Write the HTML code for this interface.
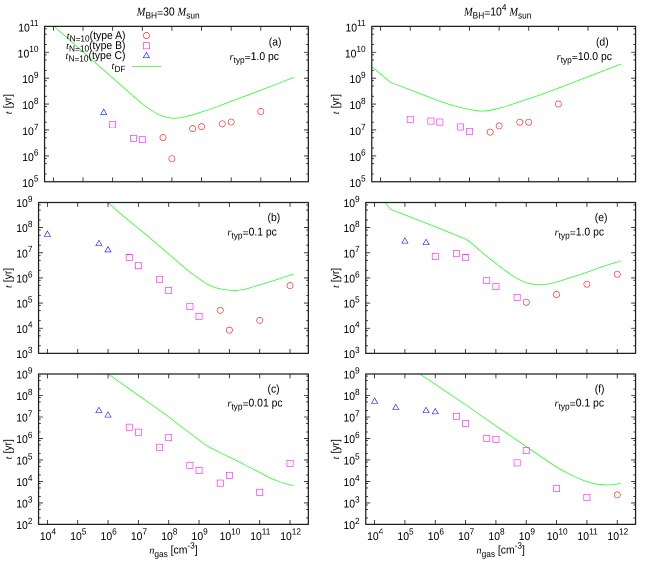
<!DOCTYPE html>
<html><head><meta charset="utf-8"><title>t vs n_gas</title>
<style>html,body{margin:0;padding:0;background:#fff;}.wrap{width:654px;height:561px;overflow:hidden;}svg{display:block;transform:scale(0.5);transform-origin:0 0;will-change:transform;}text{fill:#000;text-rendering:geometricPrecision;white-space:pre;}</style></head>
<body>
<div class="wrap"><svg width="1308" height="1122" viewBox="0 0 654 561">
<rect width="654" height="561" fill="#fff"/>
<path d="M53.95 26.15C54.96 27.04 54.81 26.91 60 31.5C65.19 36.09 76.72 46.32 85.08 53.7C93.44 61.08 102.66 69.18 110.15 75.76C117.64 82.34 125.65 89.32 130 93.16C134.35 97 134.18 96.98 136.27 98.8C138.36 100.62 140.45 102.44 142.54 104.07C144.63 105.7 146.71 107.17 148.8 108.59C150.89 110.01 152.99 111.41 155.08 112.6C157.17 113.79 159.25 114.9 161.34 115.73C163.43 116.56 165.51 117.18 167.6 117.6C169.69 118.02 171.81 118.2 173.9 118.24C175.99 118.28 178.07 118.13 180.15 117.86C182.23 117.59 184.31 117.1 186.4 116.6C188.49 116.1 190.61 115.47 192.7 114.85C194.79 114.22 196.88 113.52 198.96 112.85C201.04 112.18 203.03 111.55 205.2 110.84C207.37 110.14 206.69 110.58 212 108.62C217.31 106.66 228.72 102.25 237.08 99.1C245.44 95.95 252.68 93.33 262.15 89.7C271.62 86.08 288.61 79.41 293.9 77.35" fill="none" stroke="#00ff00" stroke-width="0.65" stroke-linejoin="round"/>
<path d="M108 202.45C110 204.26 116.67 210.38 120 213.3C123.33 216.23 123.78 216.55 128 220C132.22 223.45 141.63 230.97 145.3 234C148.97 237.03 147.13 235.68 150 238.15C152.87 240.62 158.36 245.25 162.54 248.8C166.72 252.35 170.9 255.91 175.08 259.46C179.26 263.01 183.42 266.76 187.6 270.1C191.78 273.44 197.02 277.24 200.15 279.5C203.28 281.76 204.31 282.47 206.4 283.66C208.49 284.86 210.61 285.86 212.7 286.67C214.79 287.49 216.88 288.05 218.96 288.55C221.04 289.06 223.36 289.41 225.2 289.7C227.04 289.99 228.45 290.17 230 290.3C231.55 290.43 232.7 290.57 234.5 290.5C236.3 290.43 238.7 290.21 240.8 289.9C242.9 289.59 243.97 289.48 247.1 288.65C250.23 287.82 255.43 286.16 259.6 284.9C263.78 283.64 267.97 282.42 272.15 281.1C276.33 279.78 281.11 278.17 284.7 277C288.29 275.83 292.2 274.58 293.7 274.1" fill="none" stroke="#00ff00" stroke-width="0.65" stroke-linejoin="round"/>
<path d="M108.3 374.03C112.92 377.31 126.72 387.14 136 393.7C145.28 400.26 156.67 408.08 164 413.4C171.33 418.72 175.24 422.03 180 425.64C184.76 429.25 188.36 431.92 192.54 435.05C196.72 438.19 201.95 442.26 205.08 444.45C208.21 446.64 208.16 446.52 211.3 448.2C214.44 449.88 219.72 452.43 223.9 454.5C228.08 456.57 232.22 458.52 236.4 460.6C240.58 462.68 244.69 464.83 248.96 467C253.23 469.17 258.89 471.97 262 473.6C265.11 475.23 264.58 475.4 267.6 476.8C270.62 478.2 276.8 480.76 280.15 482C283.5 483.24 285.44 483.63 287.7 484.26C289.96 484.89 292.7 485.51 293.7 485.76" fill="none" stroke="#00ff00" stroke-width="0.65" stroke-linejoin="round"/>
<path d="M371.56 66.45L390.2 82.25L420 93.7C423.33 94.97 434.58 99.4 440 101.34C445.42 103.28 448.36 104.15 452.54 105.36C456.72 106.57 461.32 107.74 465.08 108.6C468.84 109.46 472.18 110.08 475.1 110.5C478.02 110.92 480.09 111.12 482.6 111.1C485.11 111.08 486.8 110.99 490.15 110.37C493.5 109.75 498.52 108.56 502.7 107.36C506.88 106.16 511.98 104.27 515.2 103.2C518.42 102.14 517.03 102.64 522 100.97C526.97 99.3 534.83 96.91 545 93.2C555.17 89.49 570.32 83.56 583 78.7C595.68 73.84 614.75 66.5 621.1 64.06" fill="none" stroke="#00ff00" stroke-width="0.65" stroke-linejoin="round"/>
<path d="M385 202.45L390.7 209.4L440 228.6L452.5 233.8C454.18 234.47 459.88 236.59 462.6 237.8C465.32 239.01 466.72 239.64 468.8 241.06C470.88 242.48 472.58 244.17 475.1 246.3C477.62 248.43 480.35 250.92 483.9 253.85C487.45 256.78 492.22 260.66 496.4 263.9C500.58 267.14 505.83 271.05 508.96 273.3C512.09 275.55 512.51 275.88 515.2 277.4C517.89 278.92 521.99 281.25 525.1 282.4C528.21 283.55 531.13 283.92 533.85 284.3C536.57 284.68 538.68 284.77 541.4 284.66C544.12 284.55 546.6 284.41 550.15 283.66C553.7 282.91 558.53 281.41 562.7 280.15C566.88 278.89 571.98 277.11 575.2 276.1C578.42 275.09 577.33 275.72 582 274.1C586.67 272.48 596.68 268.58 603.2 266.4C609.72 264.22 618.12 261.9 621.1 261" fill="none" stroke="#00ff00" stroke-width="0.65" stroke-linejoin="round"/>
<path d="M419.9 374.03L464.4 403.9L491 422.5L530 449.2C532.5 450.9 540.41 456.37 545 459.43C549.59 462.49 553.36 465.07 557.54 467.58C561.72 470.09 565.9 472.39 570.08 474.48C574.26 476.57 578.85 478.64 582.6 480.1C586.35 481.56 589.67 482.53 592.6 483.26C595.53 483.99 597.68 484.23 600.2 484.5C602.72 484.77 605.2 484.92 607.7 484.9C610.2 484.88 613.01 484.65 615.2 484.4C617.39 484.15 619.91 483.57 620.85 483.4" fill="none" stroke="#00ff00" stroke-width="0.65" stroke-linejoin="round"/>
<rect x="44.56" y="26.35" width="263.8" height="155.45" fill="none" stroke="#202020" stroke-width="1.25" stroke-linejoin="round"/>
<path d="M53.39 181.8v-4.4M53.39 26.35v4.4M83.02 181.8v-4.4M83.02 26.35v4.4M112.65 181.8v-4.4M112.65 26.35v4.4M142.28 181.8v-4.4M142.28 26.35v4.4M171.91 181.8v-4.4M171.91 26.35v4.4M201.54 181.8v-4.4M201.54 26.35v4.4M231.17 181.8v-4.4M231.17 26.35v4.4M260.8 181.8v-4.4M260.8 26.35v4.4M290.43 181.8v-4.4M290.43 26.35v4.4M44.56 174h2.2M308.36 174h-2.2M44.56 163.69h2.2M308.36 163.69h-2.2M44.56 158.4h2.2M308.36 158.4h-2.2M44.56 155.89h4.4M308.36 155.89h-4.4M44.56 148.09h2.2M308.36 148.09h-2.2M44.56 137.78h2.2M308.36 137.78h-2.2M44.56 132.49h2.2M308.36 132.49h-2.2M44.56 129.98h4.4M308.36 129.98h-4.4M44.56 122.18h2.2M308.36 122.18h-2.2M44.56 111.87h2.2M308.36 111.87h-2.2M44.56 106.59h2.2M308.36 106.59h-2.2M44.56 104.08h4.4M308.36 104.08h-4.4M44.56 96.28h2.2M308.36 96.28h-2.2M44.56 85.97h2.2M308.36 85.97h-2.2M44.56 80.68h2.2M308.36 80.68h-2.2M44.56 78.17h4.4M308.36 78.17h-4.4M44.56 70.37h2.2M308.36 70.37h-2.2M44.56 60.06h2.2M308.36 60.06h-2.2M44.56 54.77h2.2M308.36 54.77h-2.2M44.56 52.26h4.4M308.36 52.26h-4.4M44.56 44.46h2.2M308.36 44.46h-2.2M44.56 34.15h2.2M308.36 34.15h-2.2M44.56 28.86h2.2M308.36 28.86h-2.2" fill="none" stroke="#202020" stroke-width="0.85"/>
<text transform="translate(22.28 186.8) scale(1 1.08)" font-family="'Liberation Sans', sans-serif" font-size="10.4">10</text>
<text transform="translate(33.84 181.6) scale(1 1.08)" font-family="'Liberation Sans', sans-serif" font-size="8.3">5</text>
<text transform="translate(22.28 160.89) scale(1 1.08)" font-family="'Liberation Sans', sans-serif" font-size="10.4">10</text>
<text transform="translate(33.84 155.69) scale(1 1.08)" font-family="'Liberation Sans', sans-serif" font-size="8.3">6</text>
<text transform="translate(22.28 134.98) scale(1 1.08)" font-family="'Liberation Sans', sans-serif" font-size="10.4">10</text>
<text transform="translate(33.84 129.78) scale(1 1.08)" font-family="'Liberation Sans', sans-serif" font-size="8.3">7</text>
<text transform="translate(22.28 109.08) scale(1 1.08)" font-family="'Liberation Sans', sans-serif" font-size="10.4">10</text>
<text transform="translate(33.84 103.88) scale(1 1.08)" font-family="'Liberation Sans', sans-serif" font-size="8.3">8</text>
<text transform="translate(22.28 83.17) scale(1 1.08)" font-family="'Liberation Sans', sans-serif" font-size="10.4">10</text>
<text transform="translate(33.84 77.97) scale(1 1.08)" font-family="'Liberation Sans', sans-serif" font-size="8.3">9</text>
<text transform="translate(17.66 57.26) scale(1 1.08)" font-family="'Liberation Sans', sans-serif" font-size="10.4">10</text>
<text transform="translate(29.23 52.06) scale(1 1.08)" font-family="'Liberation Sans', sans-serif" font-size="8.3">10</text>
<text transform="translate(18.28 31.35) scale(1 1.08)" font-family="'Liberation Sans', sans-serif" font-size="10.4">10</text>
<text transform="translate(29.84 26.15) scale(1 1.08)" font-family="'Liberation Sans', sans-serif" font-size="8.3">11</text>
<g transform="translate(11.7 104.08) rotate(-90)">
<text transform="translate(-10.11 0) scale(1 1.0)" font-family="'Liberation Serif', serif" font-style="italic" font-size="9.98">t</text>
<text transform="translate(-7.22 0) scale(1 1.08)" font-family="'Liberation Sans', sans-serif" font-size="10.4"> [yr]</text>
</g>
<rect x="38.56" y="202.45" width="269.8" height="150.95" fill="none" stroke="#202020" stroke-width="1.25" stroke-linejoin="round"/>
<path d="M47.39 353.4v-4.4M47.39 202.45v4.4M77.72 353.4v-4.4M77.72 202.45v4.4M108.05 353.4v-4.4M108.05 202.45v4.4M138.38 353.4v-4.4M138.38 202.45v4.4M168.71 353.4v-4.4M168.71 202.45v4.4M199.04 353.4v-4.4M199.04 202.45v4.4M229.37 353.4v-4.4M229.37 202.45v4.4M259.7 353.4v-4.4M259.7 202.45v4.4M290.03 353.4v-4.4M290.03 202.45v4.4M38.56 345.83h2.2M308.36 345.83h-2.2M38.56 335.82h2.2M308.36 335.82h-2.2M38.56 330.68h2.2M308.36 330.68h-2.2M38.56 328.24h4.4M308.36 328.24h-4.4M38.56 320.67h2.2M308.36 320.67h-2.2M38.56 310.66h2.2M308.36 310.66h-2.2M38.56 305.52h2.2M308.36 305.52h-2.2M38.56 303.08h4.4M308.36 303.08h-4.4M38.56 295.51h2.2M308.36 295.51h-2.2M38.56 285.5h2.2M308.36 285.5h-2.2M38.56 280.36h2.2M308.36 280.36h-2.2M38.56 277.92h4.4M308.36 277.92h-4.4M38.56 270.35h2.2M308.36 270.35h-2.2M38.56 260.34h2.2M308.36 260.34h-2.2M38.56 255.2h2.2M308.36 255.2h-2.2M38.56 252.77h4.4M308.36 252.77h-4.4M38.56 245.19h2.2M308.36 245.19h-2.2M38.56 235.18h2.2M308.36 235.18h-2.2M38.56 230.05h2.2M308.36 230.05h-2.2M38.56 227.61h4.4M308.36 227.61h-4.4M38.56 220.03h2.2M308.36 220.03h-2.2M38.56 210.02h2.2M308.36 210.02h-2.2M38.56 204.89h2.2M308.36 204.89h-2.2" fill="none" stroke="#202020" stroke-width="0.85"/>
<text transform="translate(16.28 358) scale(1 1.08)" font-family="'Liberation Sans', sans-serif" font-size="10.4">10</text>
<text transform="translate(27.84 352.8) scale(1 1.08)" font-family="'Liberation Sans', sans-serif" font-size="8.3">3</text>
<text transform="translate(16.28 332.84) scale(1 1.08)" font-family="'Liberation Sans', sans-serif" font-size="10.4">10</text>
<text transform="translate(27.84 327.64) scale(1 1.08)" font-family="'Liberation Sans', sans-serif" font-size="8.3">4</text>
<text transform="translate(16.28 307.68) scale(1 1.08)" font-family="'Liberation Sans', sans-serif" font-size="10.4">10</text>
<text transform="translate(27.84 302.48) scale(1 1.08)" font-family="'Liberation Sans', sans-serif" font-size="8.3">5</text>
<text transform="translate(16.28 282.52) scale(1 1.08)" font-family="'Liberation Sans', sans-serif" font-size="10.4">10</text>
<text transform="translate(27.84 277.32) scale(1 1.08)" font-family="'Liberation Sans', sans-serif" font-size="8.3">6</text>
<text transform="translate(16.28 257.37) scale(1 1.08)" font-family="'Liberation Sans', sans-serif" font-size="10.4">10</text>
<text transform="translate(27.84 252.17) scale(1 1.08)" font-family="'Liberation Sans', sans-serif" font-size="8.3">7</text>
<text transform="translate(16.28 232.21) scale(1 1.08)" font-family="'Liberation Sans', sans-serif" font-size="10.4">10</text>
<text transform="translate(27.84 227.01) scale(1 1.08)" font-family="'Liberation Sans', sans-serif" font-size="8.3">8</text>
<text transform="translate(16.28 207.05) scale(1 1.08)" font-family="'Liberation Sans', sans-serif" font-size="10.4">10</text>
<text transform="translate(27.84 201.85) scale(1 1.08)" font-family="'Liberation Sans', sans-serif" font-size="8.3">9</text>
<g transform="translate(11.7 277.92) rotate(-90)">
<text transform="translate(-10.11 0) scale(1 1.0)" font-family="'Liberation Serif', serif" font-style="italic" font-size="9.98">t</text>
<text transform="translate(-7.22 0) scale(1 1.08)" font-family="'Liberation Sans', sans-serif" font-size="10.4"> [yr]</text>
</g>
<rect x="38.56" y="374.03" width="269.8" height="150.38" fill="none" stroke="#202020" stroke-width="1.25" stroke-linejoin="round"/>
<path d="M47.39 524.41v-4.4M47.39 374.03v4.4M77.72 524.41v-4.4M77.72 374.03v4.4M108.05 524.41v-4.4M108.05 374.03v4.4M138.38 524.41v-4.4M138.38 374.03v4.4M168.71 524.41v-4.4M168.71 374.03v4.4M199.04 524.41v-4.4M199.04 374.03v4.4M229.37 524.41v-4.4M229.37 374.03v4.4M259.7 524.41v-4.4M259.7 374.03v4.4M290.03 524.41v-4.4M290.03 374.03v4.4M38.56 517.94h2.2M308.36 517.94h-2.2M38.56 509.39h2.2M308.36 509.39h-2.2M38.56 505.01h2.2M308.36 505.01h-2.2M38.56 502.93h4.4M308.36 502.93h-4.4M38.56 496.46h2.2M308.36 496.46h-2.2M38.56 487.91h2.2M308.36 487.91h-2.2M38.56 483.53h2.2M308.36 483.53h-2.2M38.56 481.44h4.4M308.36 481.44h-4.4M38.56 474.98h2.2M308.36 474.98h-2.2M38.56 466.43h2.2M308.36 466.43h-2.2M38.56 462.04h2.2M308.36 462.04h-2.2M38.56 459.96h4.4M308.36 459.96h-4.4M38.56 453.49h2.2M308.36 453.49h-2.2M38.56 444.95h2.2M308.36 444.95h-2.2M38.56 440.56h2.2M308.36 440.56h-2.2M38.56 438.48h4.4M308.36 438.48h-4.4M38.56 432.01h2.2M308.36 432.01h-2.2M38.56 423.46h2.2M308.36 423.46h-2.2M38.56 419.08h2.2M308.36 419.08h-2.2M38.56 417h4.4M308.36 417h-4.4M38.56 410.53h2.2M308.36 410.53h-2.2M38.56 401.98h2.2M308.36 401.98h-2.2M38.56 397.59h2.2M308.36 397.59h-2.2M38.56 395.51h4.4M308.36 395.51h-4.4M38.56 389.05h2.2M308.36 389.05h-2.2M38.56 380.5h2.2M308.36 380.5h-2.2M38.56 376.11h2.2M308.36 376.11h-2.2" fill="none" stroke="#202020" stroke-width="0.85"/>
<text transform="translate(16.28 529.11) scale(1 1.08)" font-family="'Liberation Sans', sans-serif" font-size="10.4">10</text>
<text transform="translate(27.84 523.91) scale(1 1.08)" font-family="'Liberation Sans', sans-serif" font-size="8.3">2</text>
<text transform="translate(16.28 507.63) scale(1 1.08)" font-family="'Liberation Sans', sans-serif" font-size="10.4">10</text>
<text transform="translate(27.84 502.43) scale(1 1.08)" font-family="'Liberation Sans', sans-serif" font-size="8.3">3</text>
<text transform="translate(16.28 486.14) scale(1 1.08)" font-family="'Liberation Sans', sans-serif" font-size="10.4">10</text>
<text transform="translate(27.84 480.94) scale(1 1.08)" font-family="'Liberation Sans', sans-serif" font-size="8.3">4</text>
<text transform="translate(16.28 464.66) scale(1 1.08)" font-family="'Liberation Sans', sans-serif" font-size="10.4">10</text>
<text transform="translate(27.84 459.46) scale(1 1.08)" font-family="'Liberation Sans', sans-serif" font-size="8.3">5</text>
<text transform="translate(16.28 443.18) scale(1 1.08)" font-family="'Liberation Sans', sans-serif" font-size="10.4">10</text>
<text transform="translate(27.84 437.98) scale(1 1.08)" font-family="'Liberation Sans', sans-serif" font-size="8.3">6</text>
<text transform="translate(16.28 421.7) scale(1 1.08)" font-family="'Liberation Sans', sans-serif" font-size="10.4">10</text>
<text transform="translate(27.84 416.5) scale(1 1.08)" font-family="'Liberation Sans', sans-serif" font-size="8.3">7</text>
<text transform="translate(16.28 400.21) scale(1 1.08)" font-family="'Liberation Sans', sans-serif" font-size="10.4">10</text>
<text transform="translate(27.84 395.01) scale(1 1.08)" font-family="'Liberation Sans', sans-serif" font-size="8.3">8</text>
<text transform="translate(16.28 378.73) scale(1 1.08)" font-family="'Liberation Sans', sans-serif" font-size="10.4">10</text>
<text transform="translate(27.84 373.53) scale(1 1.08)" font-family="'Liberation Sans', sans-serif" font-size="8.3">9</text>
<text transform="translate(39.9 539.81) scale(1 1.08)" font-family="'Liberation Sans', sans-serif" font-size="10.4">10</text>
<text transform="translate(51.47 534.61) scale(1 1.08)" font-family="'Liberation Sans', sans-serif" font-size="8.3">4</text>
<text transform="translate(70.23 539.81) scale(1 1.08)" font-family="'Liberation Sans', sans-serif" font-size="10.4">10</text>
<text transform="translate(81.8 534.61) scale(1 1.08)" font-family="'Liberation Sans', sans-serif" font-size="8.3">5</text>
<text transform="translate(100.56 539.81) scale(1 1.08)" font-family="'Liberation Sans', sans-serif" font-size="10.4">10</text>
<text transform="translate(112.13 534.61) scale(1 1.08)" font-family="'Liberation Sans', sans-serif" font-size="8.3">6</text>
<text transform="translate(130.89 539.81) scale(1 1.08)" font-family="'Liberation Sans', sans-serif" font-size="10.4">10</text>
<text transform="translate(142.46 534.61) scale(1 1.08)" font-family="'Liberation Sans', sans-serif" font-size="8.3">7</text>
<text transform="translate(161.22 539.81) scale(1 1.08)" font-family="'Liberation Sans', sans-serif" font-size="10.4">10</text>
<text transform="translate(172.79 534.61) scale(1 1.08)" font-family="'Liberation Sans', sans-serif" font-size="8.3">8</text>
<text transform="translate(191.55 539.81) scale(1 1.08)" font-family="'Liberation Sans', sans-serif" font-size="10.4">10</text>
<text transform="translate(203.12 534.61) scale(1 1.08)" font-family="'Liberation Sans', sans-serif" font-size="8.3">9</text>
<text transform="translate(219.57 539.81) scale(1 1.08)" font-family="'Liberation Sans', sans-serif" font-size="10.4">10</text>
<text transform="translate(231.14 534.61) scale(1 1.08)" font-family="'Liberation Sans', sans-serif" font-size="8.3">10</text>
<text transform="translate(250.21 539.81) scale(1 1.08)" font-family="'Liberation Sans', sans-serif" font-size="10.4">10</text>
<text transform="translate(261.78 534.61) scale(1 1.08)" font-family="'Liberation Sans', sans-serif" font-size="8.3">11</text>
<text transform="translate(280.23 539.81) scale(1 1.08)" font-family="'Liberation Sans', sans-serif" font-size="10.4">10</text>
<text transform="translate(291.8 534.61) scale(1 1.08)" font-family="'Liberation Sans', sans-serif" font-size="8.3">12</text>
<g transform="translate(11.7 449.22) rotate(-90)">
<text transform="translate(-10.11 0) scale(1 1.0)" font-family="'Liberation Serif', serif" font-style="italic" font-size="9.98">t</text>
<text transform="translate(-7.22 0) scale(1 1.08)" font-family="'Liberation Sans', sans-serif" font-size="10.4"> [yr]</text>
</g>
<rect x="371.76" y="26.35" width="263.8" height="155.45" fill="none" stroke="#202020" stroke-width="1.25" stroke-linejoin="round"/>
<path d="M380.59 181.8v-4.4M380.59 26.35v4.4M410.22 181.8v-4.4M410.22 26.35v4.4M439.85 181.8v-4.4M439.85 26.35v4.4M469.48 181.8v-4.4M469.48 26.35v4.4M499.11 181.8v-4.4M499.11 26.35v4.4M528.74 181.8v-4.4M528.74 26.35v4.4M558.37 181.8v-4.4M558.37 26.35v4.4M588 181.8v-4.4M588 26.35v4.4M617.63 181.8v-4.4M617.63 26.35v4.4M371.76 174h2.2M635.56 174h-2.2M371.76 163.69h2.2M635.56 163.69h-2.2M371.76 158.4h2.2M635.56 158.4h-2.2M371.76 155.89h4.4M635.56 155.89h-4.4M371.76 148.09h2.2M635.56 148.09h-2.2M371.76 137.78h2.2M635.56 137.78h-2.2M371.76 132.49h2.2M635.56 132.49h-2.2M371.76 129.98h4.4M635.56 129.98h-4.4M371.76 122.18h2.2M635.56 122.18h-2.2M371.76 111.87h2.2M635.56 111.87h-2.2M371.76 106.59h2.2M635.56 106.59h-2.2M371.76 104.08h4.4M635.56 104.08h-4.4M371.76 96.28h2.2M635.56 96.28h-2.2M371.76 85.97h2.2M635.56 85.97h-2.2M371.76 80.68h2.2M635.56 80.68h-2.2M371.76 78.17h4.4M635.56 78.17h-4.4M371.76 70.37h2.2M635.56 70.37h-2.2M371.76 60.06h2.2M635.56 60.06h-2.2M371.76 54.77h2.2M635.56 54.77h-2.2M371.76 52.26h4.4M635.56 52.26h-4.4M371.76 44.46h2.2M635.56 44.46h-2.2M371.76 34.15h2.2M635.56 34.15h-2.2M371.76 28.86h2.2M635.56 28.86h-2.2" fill="none" stroke="#202020" stroke-width="0.85"/>
<text transform="translate(349.48 186.8) scale(1 1.08)" font-family="'Liberation Sans', sans-serif" font-size="10.4">10</text>
<text transform="translate(361.04 181.6) scale(1 1.08)" font-family="'Liberation Sans', sans-serif" font-size="8.3">5</text>
<text transform="translate(349.48 160.89) scale(1 1.08)" font-family="'Liberation Sans', sans-serif" font-size="10.4">10</text>
<text transform="translate(361.04 155.69) scale(1 1.08)" font-family="'Liberation Sans', sans-serif" font-size="8.3">6</text>
<text transform="translate(349.48 134.98) scale(1 1.08)" font-family="'Liberation Sans', sans-serif" font-size="10.4">10</text>
<text transform="translate(361.04 129.78) scale(1 1.08)" font-family="'Liberation Sans', sans-serif" font-size="8.3">7</text>
<text transform="translate(349.48 109.08) scale(1 1.08)" font-family="'Liberation Sans', sans-serif" font-size="10.4">10</text>
<text transform="translate(361.04 103.88) scale(1 1.08)" font-family="'Liberation Sans', sans-serif" font-size="8.3">8</text>
<text transform="translate(349.48 83.17) scale(1 1.08)" font-family="'Liberation Sans', sans-serif" font-size="10.4">10</text>
<text transform="translate(361.04 77.97) scale(1 1.08)" font-family="'Liberation Sans', sans-serif" font-size="8.3">9</text>
<text transform="translate(344.86 57.26) scale(1 1.08)" font-family="'Liberation Sans', sans-serif" font-size="10.4">10</text>
<text transform="translate(356.43 52.06) scale(1 1.08)" font-family="'Liberation Sans', sans-serif" font-size="8.3">10</text>
<text transform="translate(345.48 31.35) scale(1 1.08)" font-family="'Liberation Sans', sans-serif" font-size="10.4">10</text>
<text transform="translate(357.04 26.15) scale(1 1.08)" font-family="'Liberation Sans', sans-serif" font-size="8.3">11</text>
<g transform="translate(338.9 104.08) rotate(-90)">
<text transform="translate(-10.11 0) scale(1 1.0)" font-family="'Liberation Serif', serif" font-style="italic" font-size="9.98">t</text>
<text transform="translate(-7.22 0) scale(1 1.08)" font-family="'Liberation Sans', sans-serif" font-size="10.4"> [yr]</text>
</g>
<rect x="365.76" y="202.45" width="269.8" height="150.95" fill="none" stroke="#202020" stroke-width="1.25" stroke-linejoin="round"/>
<path d="M374.59 353.4v-4.4M374.59 202.45v4.4M404.92 353.4v-4.4M404.92 202.45v4.4M435.25 353.4v-4.4M435.25 202.45v4.4M465.58 353.4v-4.4M465.58 202.45v4.4M495.91 353.4v-4.4M495.91 202.45v4.4M526.24 353.4v-4.4M526.24 202.45v4.4M556.57 353.4v-4.4M556.57 202.45v4.4M586.9 353.4v-4.4M586.9 202.45v4.4M617.23 353.4v-4.4M617.23 202.45v4.4M365.76 345.83h2.2M635.56 345.83h-2.2M365.76 335.82h2.2M635.56 335.82h-2.2M365.76 330.68h2.2M635.56 330.68h-2.2M365.76 328.24h4.4M635.56 328.24h-4.4M365.76 320.67h2.2M635.56 320.67h-2.2M365.76 310.66h2.2M635.56 310.66h-2.2M365.76 305.52h2.2M635.56 305.52h-2.2M365.76 303.08h4.4M635.56 303.08h-4.4M365.76 295.51h2.2M635.56 295.51h-2.2M365.76 285.5h2.2M635.56 285.5h-2.2M365.76 280.36h2.2M635.56 280.36h-2.2M365.76 277.92h4.4M635.56 277.92h-4.4M365.76 270.35h2.2M635.56 270.35h-2.2M365.76 260.34h2.2M635.56 260.34h-2.2M365.76 255.2h2.2M635.56 255.2h-2.2M365.76 252.77h4.4M635.56 252.77h-4.4M365.76 245.19h2.2M635.56 245.19h-2.2M365.76 235.18h2.2M635.56 235.18h-2.2M365.76 230.05h2.2M635.56 230.05h-2.2M365.76 227.61h4.4M635.56 227.61h-4.4M365.76 220.03h2.2M635.56 220.03h-2.2M365.76 210.02h2.2M635.56 210.02h-2.2M365.76 204.89h2.2M635.56 204.89h-2.2" fill="none" stroke="#202020" stroke-width="0.85"/>
<text transform="translate(343.48 358) scale(1 1.08)" font-family="'Liberation Sans', sans-serif" font-size="10.4">10</text>
<text transform="translate(355.04 352.8) scale(1 1.08)" font-family="'Liberation Sans', sans-serif" font-size="8.3">3</text>
<text transform="translate(343.48 332.84) scale(1 1.08)" font-family="'Liberation Sans', sans-serif" font-size="10.4">10</text>
<text transform="translate(355.04 327.64) scale(1 1.08)" font-family="'Liberation Sans', sans-serif" font-size="8.3">4</text>
<text transform="translate(343.48 307.68) scale(1 1.08)" font-family="'Liberation Sans', sans-serif" font-size="10.4">10</text>
<text transform="translate(355.04 302.48) scale(1 1.08)" font-family="'Liberation Sans', sans-serif" font-size="8.3">5</text>
<text transform="translate(343.48 282.52) scale(1 1.08)" font-family="'Liberation Sans', sans-serif" font-size="10.4">10</text>
<text transform="translate(355.04 277.32) scale(1 1.08)" font-family="'Liberation Sans', sans-serif" font-size="8.3">6</text>
<text transform="translate(343.48 257.37) scale(1 1.08)" font-family="'Liberation Sans', sans-serif" font-size="10.4">10</text>
<text transform="translate(355.04 252.17) scale(1 1.08)" font-family="'Liberation Sans', sans-serif" font-size="8.3">7</text>
<text transform="translate(343.48 232.21) scale(1 1.08)" font-family="'Liberation Sans', sans-serif" font-size="10.4">10</text>
<text transform="translate(355.04 227.01) scale(1 1.08)" font-family="'Liberation Sans', sans-serif" font-size="8.3">8</text>
<text transform="translate(343.48 207.05) scale(1 1.08)" font-family="'Liberation Sans', sans-serif" font-size="10.4">10</text>
<text transform="translate(355.04 201.85) scale(1 1.08)" font-family="'Liberation Sans', sans-serif" font-size="8.3">9</text>
<g transform="translate(338.9 277.92) rotate(-90)">
<text transform="translate(-10.11 0) scale(1 1.0)" font-family="'Liberation Serif', serif" font-style="italic" font-size="9.98">t</text>
<text transform="translate(-7.22 0) scale(1 1.08)" font-family="'Liberation Sans', sans-serif" font-size="10.4"> [yr]</text>
</g>
<rect x="365.76" y="374.03" width="269.8" height="150.38" fill="none" stroke="#202020" stroke-width="1.25" stroke-linejoin="round"/>
<path d="M374.59 524.41v-4.4M374.59 374.03v4.4M404.92 524.41v-4.4M404.92 374.03v4.4M435.25 524.41v-4.4M435.25 374.03v4.4M465.58 524.41v-4.4M465.58 374.03v4.4M495.91 524.41v-4.4M495.91 374.03v4.4M526.24 524.41v-4.4M526.24 374.03v4.4M556.57 524.41v-4.4M556.57 374.03v4.4M586.9 524.41v-4.4M586.9 374.03v4.4M617.23 524.41v-4.4M617.23 374.03v4.4M365.76 517.94h2.2M635.56 517.94h-2.2M365.76 509.39h2.2M635.56 509.39h-2.2M365.76 505.01h2.2M635.56 505.01h-2.2M365.76 502.93h4.4M635.56 502.93h-4.4M365.76 496.46h2.2M635.56 496.46h-2.2M365.76 487.91h2.2M635.56 487.91h-2.2M365.76 483.53h2.2M635.56 483.53h-2.2M365.76 481.44h4.4M635.56 481.44h-4.4M365.76 474.98h2.2M635.56 474.98h-2.2M365.76 466.43h2.2M635.56 466.43h-2.2M365.76 462.04h2.2M635.56 462.04h-2.2M365.76 459.96h4.4M635.56 459.96h-4.4M365.76 453.49h2.2M635.56 453.49h-2.2M365.76 444.95h2.2M635.56 444.95h-2.2M365.76 440.56h2.2M635.56 440.56h-2.2M365.76 438.48h4.4M635.56 438.48h-4.4M365.76 432.01h2.2M635.56 432.01h-2.2M365.76 423.46h2.2M635.56 423.46h-2.2M365.76 419.08h2.2M635.56 419.08h-2.2M365.76 417h4.4M635.56 417h-4.4M365.76 410.53h2.2M635.56 410.53h-2.2M365.76 401.98h2.2M635.56 401.98h-2.2M365.76 397.59h2.2M635.56 397.59h-2.2M365.76 395.51h4.4M635.56 395.51h-4.4M365.76 389.05h2.2M635.56 389.05h-2.2M365.76 380.5h2.2M635.56 380.5h-2.2M365.76 376.11h2.2M635.56 376.11h-2.2" fill="none" stroke="#202020" stroke-width="0.85"/>
<text transform="translate(343.48 529.11) scale(1 1.08)" font-family="'Liberation Sans', sans-serif" font-size="10.4">10</text>
<text transform="translate(355.04 523.91) scale(1 1.08)" font-family="'Liberation Sans', sans-serif" font-size="8.3">2</text>
<text transform="translate(343.48 507.63) scale(1 1.08)" font-family="'Liberation Sans', sans-serif" font-size="10.4">10</text>
<text transform="translate(355.04 502.43) scale(1 1.08)" font-family="'Liberation Sans', sans-serif" font-size="8.3">3</text>
<text transform="translate(343.48 486.14) scale(1 1.08)" font-family="'Liberation Sans', sans-serif" font-size="10.4">10</text>
<text transform="translate(355.04 480.94) scale(1 1.08)" font-family="'Liberation Sans', sans-serif" font-size="8.3">4</text>
<text transform="translate(343.48 464.66) scale(1 1.08)" font-family="'Liberation Sans', sans-serif" font-size="10.4">10</text>
<text transform="translate(355.04 459.46) scale(1 1.08)" font-family="'Liberation Sans', sans-serif" font-size="8.3">5</text>
<text transform="translate(343.48 443.18) scale(1 1.08)" font-family="'Liberation Sans', sans-serif" font-size="10.4">10</text>
<text transform="translate(355.04 437.98) scale(1 1.08)" font-family="'Liberation Sans', sans-serif" font-size="8.3">6</text>
<text transform="translate(343.48 421.7) scale(1 1.08)" font-family="'Liberation Sans', sans-serif" font-size="10.4">10</text>
<text transform="translate(355.04 416.5) scale(1 1.08)" font-family="'Liberation Sans', sans-serif" font-size="8.3">7</text>
<text transform="translate(343.48 400.21) scale(1 1.08)" font-family="'Liberation Sans', sans-serif" font-size="10.4">10</text>
<text transform="translate(355.04 395.01) scale(1 1.08)" font-family="'Liberation Sans', sans-serif" font-size="8.3">8</text>
<text transform="translate(343.48 378.73) scale(1 1.08)" font-family="'Liberation Sans', sans-serif" font-size="10.4">10</text>
<text transform="translate(355.04 373.53) scale(1 1.08)" font-family="'Liberation Sans', sans-serif" font-size="8.3">9</text>
<text transform="translate(367.1 539.81) scale(1 1.08)" font-family="'Liberation Sans', sans-serif" font-size="10.4">10</text>
<text transform="translate(378.67 534.61) scale(1 1.08)" font-family="'Liberation Sans', sans-serif" font-size="8.3">4</text>
<text transform="translate(397.43 539.81) scale(1 1.08)" font-family="'Liberation Sans', sans-serif" font-size="10.4">10</text>
<text transform="translate(409 534.61) scale(1 1.08)" font-family="'Liberation Sans', sans-serif" font-size="8.3">5</text>
<text transform="translate(427.76 539.81) scale(1 1.08)" font-family="'Liberation Sans', sans-serif" font-size="10.4">10</text>
<text transform="translate(439.33 534.61) scale(1 1.08)" font-family="'Liberation Sans', sans-serif" font-size="8.3">6</text>
<text transform="translate(458.09 539.81) scale(1 1.08)" font-family="'Liberation Sans', sans-serif" font-size="10.4">10</text>
<text transform="translate(469.66 534.61) scale(1 1.08)" font-family="'Liberation Sans', sans-serif" font-size="8.3">7</text>
<text transform="translate(488.42 539.81) scale(1 1.08)" font-family="'Liberation Sans', sans-serif" font-size="10.4">10</text>
<text transform="translate(499.99 534.61) scale(1 1.08)" font-family="'Liberation Sans', sans-serif" font-size="8.3">8</text>
<text transform="translate(518.75 539.81) scale(1 1.08)" font-family="'Liberation Sans', sans-serif" font-size="10.4">10</text>
<text transform="translate(530.32 534.61) scale(1 1.08)" font-family="'Liberation Sans', sans-serif" font-size="8.3">9</text>
<text transform="translate(546.77 539.81) scale(1 1.08)" font-family="'Liberation Sans', sans-serif" font-size="10.4">10</text>
<text transform="translate(558.34 534.61) scale(1 1.08)" font-family="'Liberation Sans', sans-serif" font-size="8.3">10</text>
<text transform="translate(577.41 539.81) scale(1 1.08)" font-family="'Liberation Sans', sans-serif" font-size="10.4">10</text>
<text transform="translate(588.98 534.61) scale(1 1.08)" font-family="'Liberation Sans', sans-serif" font-size="8.3">11</text>
<text transform="translate(607.43 539.81) scale(1 1.08)" font-family="'Liberation Sans', sans-serif" font-size="10.4">10</text>
<text transform="translate(619 534.61) scale(1 1.08)" font-family="'Liberation Sans', sans-serif" font-size="8.3">12</text>
<g transform="translate(338.9 449.22) rotate(-90)">
<text transform="translate(-10.11 0) scale(1 1.0)" font-family="'Liberation Serif', serif" font-style="italic" font-size="9.98">t</text>
<text transform="translate(-7.22 0) scale(1 1.08)" font-family="'Liberation Sans', sans-serif" font-size="10.4"> [yr]</text>
</g>
<path d="M103.73 109.06L100.66 114.44L106.8 114.44Z" fill="none" stroke="#0000ff" stroke-width="0.55"/>
<circle cx="103.73" cy="112.9" r="0.35" fill="#0000ff" fill-opacity="0.3"/>
<rect x="109.58" y="121.5" width="6.14" height="6.14" fill="none" stroke="#ff00ff" stroke-width="0.55"/>
<circle cx="112.65" cy="124.57" r="0.35" fill="#ff00ff" fill-opacity="0.45"/>
<rect x="130.29" y="135.28" width="6.14" height="6.14" fill="none" stroke="#ff00ff" stroke-width="0.55"/>
<circle cx="133.36" cy="138.35" r="0.35" fill="#ff00ff" fill-opacity="0.45"/>
<rect x="139.21" y="136.48" width="6.14" height="6.14" fill="none" stroke="#ff00ff" stroke-width="0.55"/>
<circle cx="142.28" cy="139.55" r="0.35" fill="#ff00ff" fill-opacity="0.45"/>
<circle cx="162.99" cy="137.65" r="3.07" fill="none" stroke="#ff0000" stroke-width="0.55"/>
<circle cx="162.99" cy="137.65" r="0.35" fill="#ff0000" fill-opacity="0.4"/>
<circle cx="171.91" cy="158.68" r="3.07" fill="none" stroke="#ff0000" stroke-width="0.55"/>
<circle cx="171.91" cy="158.68" r="0.35" fill="#ff0000" fill-opacity="0.4"/>
<circle cx="192.62" cy="128.62" r="3.07" fill="none" stroke="#ff0000" stroke-width="0.55"/>
<circle cx="192.62" cy="128.62" r="0.35" fill="#ff0000" fill-opacity="0.4"/>
<circle cx="201.54" cy="126.75" r="3.07" fill="none" stroke="#ff0000" stroke-width="0.55"/>
<circle cx="201.54" cy="126.75" r="0.35" fill="#ff0000" fill-opacity="0.4"/>
<circle cx="222.25" cy="123.82" r="3.07" fill="none" stroke="#ff0000" stroke-width="0.55"/>
<circle cx="222.25" cy="123.82" r="0.35" fill="#ff0000" fill-opacity="0.4"/>
<circle cx="231.17" cy="122.07" r="3.07" fill="none" stroke="#ff0000" stroke-width="0.55"/>
<circle cx="231.17" cy="122.07" r="0.35" fill="#ff0000" fill-opacity="0.4"/>
<circle cx="260.8" cy="111.53" r="3.07" fill="none" stroke="#ff0000" stroke-width="0.55"/>
<circle cx="260.8" cy="111.53" r="0.35" fill="#ff0000" fill-opacity="0.4"/>
<path d="M47.39 230.96L44.32 236.34L50.46 236.34Z" fill="none" stroke="#0000ff" stroke-width="0.55"/>
<circle cx="47.39" cy="234.8" r="0.35" fill="#0000ff" fill-opacity="0.3"/>
<path d="M98.92 240.26L95.85 245.63L101.99 245.63Z" fill="none" stroke="#0000ff" stroke-width="0.55"/>
<circle cx="98.92" cy="244.1" r="0.35" fill="#0000ff" fill-opacity="0.3"/>
<path d="M108.05 246.56L104.98 251.94L111.12 251.94Z" fill="none" stroke="#0000ff" stroke-width="0.55"/>
<circle cx="108.05" cy="250.4" r="0.35" fill="#0000ff" fill-opacity="0.3"/>
<rect x="126.18" y="254.38" width="6.14" height="6.14" fill="none" stroke="#ff00ff" stroke-width="0.55"/>
<circle cx="129.25" cy="257.45" r="0.35" fill="#ff00ff" fill-opacity="0.45"/>
<rect x="135.31" y="262.63" width="6.14" height="6.14" fill="none" stroke="#ff00ff" stroke-width="0.55"/>
<circle cx="138.38" cy="265.7" r="0.35" fill="#ff00ff" fill-opacity="0.45"/>
<rect x="156.51" y="276.23" width="6.14" height="6.14" fill="none" stroke="#ff00ff" stroke-width="0.55"/>
<circle cx="159.58" cy="279.3" r="0.35" fill="#ff00ff" fill-opacity="0.45"/>
<rect x="165.64" y="287.43" width="6.14" height="6.14" fill="none" stroke="#ff00ff" stroke-width="0.55"/>
<circle cx="168.71" cy="290.5" r="0.35" fill="#ff00ff" fill-opacity="0.45"/>
<rect x="186.84" y="303.23" width="6.14" height="6.14" fill="none" stroke="#ff00ff" stroke-width="0.55"/>
<circle cx="189.91" cy="306.3" r="0.35" fill="#ff00ff" fill-opacity="0.45"/>
<rect x="195.97" y="313.33" width="6.14" height="6.14" fill="none" stroke="#ff00ff" stroke-width="0.55"/>
<circle cx="199.04" cy="316.4" r="0.35" fill="#ff00ff" fill-opacity="0.45"/>
<circle cx="220.24" cy="310.3" r="3.07" fill="none" stroke="#ff0000" stroke-width="0.55"/>
<circle cx="220.24" cy="310.3" r="0.35" fill="#ff0000" fill-opacity="0.4"/>
<circle cx="229.37" cy="330.15" r="3.07" fill="none" stroke="#ff0000" stroke-width="0.55"/>
<circle cx="229.37" cy="330.15" r="0.35" fill="#ff0000" fill-opacity="0.4"/>
<circle cx="259.7" cy="320.4" r="3.07" fill="none" stroke="#ff0000" stroke-width="0.55"/>
<circle cx="259.7" cy="320.4" r="0.35" fill="#ff0000" fill-opacity="0.4"/>
<circle cx="290.03" cy="285.65" r="3.07" fill="none" stroke="#ff0000" stroke-width="0.55"/>
<circle cx="290.03" cy="285.65" r="0.35" fill="#ff0000" fill-opacity="0.4"/>
<path d="M98.92 407.26L95.85 412.64L101.99 412.64Z" fill="none" stroke="#0000ff" stroke-width="0.55"/>
<circle cx="98.92" cy="411.1" r="0.35" fill="#0000ff" fill-opacity="0.3"/>
<path d="M108.05 411.76L104.98 417.14L111.12 417.14Z" fill="none" stroke="#0000ff" stroke-width="0.55"/>
<circle cx="108.05" cy="415.6" r="0.35" fill="#0000ff" fill-opacity="0.3"/>
<rect x="126.18" y="424.13" width="6.14" height="6.14" fill="none" stroke="#ff00ff" stroke-width="0.55"/>
<circle cx="129.25" cy="427.2" r="0.35" fill="#ff00ff" fill-opacity="0.45"/>
<rect x="135.31" y="429.13" width="6.14" height="6.14" fill="none" stroke="#ff00ff" stroke-width="0.55"/>
<circle cx="138.38" cy="432.2" r="0.35" fill="#ff00ff" fill-opacity="0.45"/>
<rect x="156.51" y="444.18" width="6.14" height="6.14" fill="none" stroke="#ff00ff" stroke-width="0.55"/>
<circle cx="159.58" cy="447.25" r="0.35" fill="#ff00ff" fill-opacity="0.45"/>
<rect x="165.64" y="434.63" width="6.14" height="6.14" fill="none" stroke="#ff00ff" stroke-width="0.55"/>
<circle cx="168.71" cy="437.7" r="0.35" fill="#ff00ff" fill-opacity="0.45"/>
<rect x="186.84" y="462.23" width="6.14" height="6.14" fill="none" stroke="#ff00ff" stroke-width="0.55"/>
<circle cx="189.91" cy="465.3" r="0.35" fill="#ff00ff" fill-opacity="0.45"/>
<rect x="195.97" y="467.43" width="6.14" height="6.14" fill="none" stroke="#ff00ff" stroke-width="0.55"/>
<circle cx="199.04" cy="470.5" r="0.35" fill="#ff00ff" fill-opacity="0.45"/>
<rect x="217.17" y="480.03" width="6.14" height="6.14" fill="none" stroke="#ff00ff" stroke-width="0.55"/>
<circle cx="220.24" cy="483.1" r="0.35" fill="#ff00ff" fill-opacity="0.45"/>
<rect x="226.3" y="472.23" width="6.14" height="6.14" fill="none" stroke="#ff00ff" stroke-width="0.55"/>
<circle cx="229.37" cy="475.3" r="0.35" fill="#ff00ff" fill-opacity="0.45"/>
<rect x="256.63" y="489.23" width="6.14" height="6.14" fill="none" stroke="#ff00ff" stroke-width="0.55"/>
<circle cx="259.7" cy="492.3" r="0.35" fill="#ff00ff" fill-opacity="0.45"/>
<rect x="286.96" y="460.33" width="6.14" height="6.14" fill="none" stroke="#ff00ff" stroke-width="0.55"/>
<circle cx="290.03" cy="463.4" r="0.35" fill="#ff00ff" fill-opacity="0.45"/>
<rect x="407.15" y="116.23" width="6.14" height="6.14" fill="none" stroke="#ff00ff" stroke-width="0.55"/>
<circle cx="410.22" cy="119.3" r="0.35" fill="#ff00ff" fill-opacity="0.45"/>
<rect x="427.86" y="117.99" width="6.14" height="6.14" fill="none" stroke="#ff00ff" stroke-width="0.55"/>
<circle cx="430.93" cy="121.06" r="0.35" fill="#ff00ff" fill-opacity="0.45"/>
<rect x="436.78" y="119" width="6.14" height="6.14" fill="none" stroke="#ff00ff" stroke-width="0.55"/>
<circle cx="439.85" cy="122.07" r="0.35" fill="#ff00ff" fill-opacity="0.45"/>
<rect x="457.49" y="123.93" width="6.14" height="6.14" fill="none" stroke="#ff00ff" stroke-width="0.55"/>
<circle cx="460.56" cy="127" r="0.35" fill="#ff00ff" fill-opacity="0.45"/>
<rect x="466.41" y="128.38" width="6.14" height="6.14" fill="none" stroke="#ff00ff" stroke-width="0.55"/>
<circle cx="469.48" cy="131.45" r="0.35" fill="#ff00ff" fill-opacity="0.45"/>
<circle cx="490.19" cy="132.1" r="3.07" fill="none" stroke="#ff0000" stroke-width="0.55"/>
<circle cx="490.19" cy="132.1" r="0.35" fill="#ff0000" fill-opacity="0.4"/>
<circle cx="499.11" cy="125.9" r="3.07" fill="none" stroke="#ff0000" stroke-width="0.55"/>
<circle cx="499.11" cy="125.9" r="0.35" fill="#ff0000" fill-opacity="0.4"/>
<circle cx="519.82" cy="122.2" r="3.07" fill="none" stroke="#ff0000" stroke-width="0.55"/>
<circle cx="519.82" cy="122.2" r="0.35" fill="#ff0000" fill-opacity="0.4"/>
<circle cx="528.74" cy="122.2" r="3.07" fill="none" stroke="#ff0000" stroke-width="0.55"/>
<circle cx="528.74" cy="122.2" r="0.35" fill="#ff0000" fill-opacity="0.4"/>
<circle cx="558.37" cy="104" r="3.07" fill="none" stroke="#ff0000" stroke-width="0.55"/>
<circle cx="558.37" cy="104" r="0.35" fill="#ff0000" fill-opacity="0.4"/>
<path d="M404.92 237.76L401.85 243.13L407.99 243.13Z" fill="none" stroke="#0000ff" stroke-width="0.55"/>
<circle cx="404.92" cy="241.6" r="0.35" fill="#0000ff" fill-opacity="0.3"/>
<path d="M426.12 239.26L423.05 244.63L429.19 244.63Z" fill="none" stroke="#0000ff" stroke-width="0.55"/>
<circle cx="426.12" cy="243.1" r="0.35" fill="#0000ff" fill-opacity="0.3"/>
<rect x="432.18" y="253.38" width="6.14" height="6.14" fill="none" stroke="#ff00ff" stroke-width="0.55"/>
<circle cx="435.25" cy="256.45" r="0.35" fill="#ff00ff" fill-opacity="0.45"/>
<rect x="453.38" y="250.37" width="6.14" height="6.14" fill="none" stroke="#ff00ff" stroke-width="0.55"/>
<circle cx="456.45" cy="253.44" r="0.35" fill="#ff00ff" fill-opacity="0.45"/>
<rect x="462.51" y="254.38" width="6.14" height="6.14" fill="none" stroke="#ff00ff" stroke-width="0.55"/>
<circle cx="465.58" cy="257.45" r="0.35" fill="#ff00ff" fill-opacity="0.45"/>
<rect x="483.71" y="277.43" width="6.14" height="6.14" fill="none" stroke="#ff00ff" stroke-width="0.55"/>
<circle cx="486.78" cy="280.5" r="0.35" fill="#ff00ff" fill-opacity="0.45"/>
<rect x="492.84" y="283.53" width="6.14" height="6.14" fill="none" stroke="#ff00ff" stroke-width="0.55"/>
<circle cx="495.91" cy="286.6" r="0.35" fill="#ff00ff" fill-opacity="0.45"/>
<rect x="514.04" y="294.33" width="6.14" height="6.14" fill="none" stroke="#ff00ff" stroke-width="0.55"/>
<circle cx="517.11" cy="297.4" r="0.35" fill="#ff00ff" fill-opacity="0.45"/>
<circle cx="526.24" cy="302.2" r="3.07" fill="none" stroke="#ff0000" stroke-width="0.55"/>
<circle cx="526.24" cy="302.2" r="0.35" fill="#ff0000" fill-opacity="0.4"/>
<circle cx="556.57" cy="294.5" r="3.07" fill="none" stroke="#ff0000" stroke-width="0.55"/>
<circle cx="556.57" cy="294.5" r="0.35" fill="#ff0000" fill-opacity="0.4"/>
<circle cx="586.9" cy="284.2" r="3.07" fill="none" stroke="#ff0000" stroke-width="0.55"/>
<circle cx="586.9" cy="284.2" r="0.35" fill="#ff0000" fill-opacity="0.4"/>
<circle cx="617.23" cy="274.2" r="3.07" fill="none" stroke="#ff0000" stroke-width="0.55"/>
<circle cx="617.23" cy="274.2" r="0.35" fill="#ff0000" fill-opacity="0.4"/>
<path d="M374.59 397.96L371.52 403.34L377.66 403.34Z" fill="none" stroke="#0000ff" stroke-width="0.55"/>
<circle cx="374.59" cy="401.8" r="0.35" fill="#0000ff" fill-opacity="0.3"/>
<path d="M395.79 404.26L392.72 409.64L398.86 409.64Z" fill="none" stroke="#0000ff" stroke-width="0.55"/>
<circle cx="395.79" cy="408.1" r="0.35" fill="#0000ff" fill-opacity="0.3"/>
<path d="M426.12 407.26L423.05 412.64L429.19 412.64Z" fill="none" stroke="#0000ff" stroke-width="0.55"/>
<circle cx="426.12" cy="411.1" r="0.35" fill="#0000ff" fill-opacity="0.3"/>
<path d="M435.25 408.46L432.18 413.84L438.32 413.84Z" fill="none" stroke="#0000ff" stroke-width="0.55"/>
<circle cx="435.25" cy="412.3" r="0.35" fill="#0000ff" fill-opacity="0.3"/>
<rect x="453.38" y="413.33" width="6.14" height="6.14" fill="none" stroke="#ff00ff" stroke-width="0.55"/>
<circle cx="456.45" cy="416.4" r="0.35" fill="#ff00ff" fill-opacity="0.45"/>
<rect x="462.51" y="420.33" width="6.14" height="6.14" fill="none" stroke="#ff00ff" stroke-width="0.55"/>
<circle cx="465.58" cy="423.4" r="0.35" fill="#ff00ff" fill-opacity="0.45"/>
<rect x="483.71" y="435.43" width="6.14" height="6.14" fill="none" stroke="#ff00ff" stroke-width="0.55"/>
<circle cx="486.78" cy="438.5" r="0.35" fill="#ff00ff" fill-opacity="0.45"/>
<rect x="492.84" y="436.23" width="6.14" height="6.14" fill="none" stroke="#ff00ff" stroke-width="0.55"/>
<circle cx="495.91" cy="439.3" r="0.35" fill="#ff00ff" fill-opacity="0.45"/>
<rect x="514.04" y="459.83" width="6.14" height="6.14" fill="none" stroke="#ff00ff" stroke-width="0.55"/>
<circle cx="517.11" cy="462.9" r="0.35" fill="#ff00ff" fill-opacity="0.45"/>
<rect x="523.17" y="447.43" width="6.14" height="6.14" fill="none" stroke="#ff00ff" stroke-width="0.55"/>
<circle cx="526.24" cy="450.5" r="0.35" fill="#ff00ff" fill-opacity="0.45"/>
<rect x="553.5" y="485.53" width="6.14" height="6.14" fill="none" stroke="#ff00ff" stroke-width="0.55"/>
<circle cx="556.57" cy="488.6" r="0.35" fill="#ff00ff" fill-opacity="0.45"/>
<rect x="583.83" y="494.33" width="6.14" height="6.14" fill="none" stroke="#ff00ff" stroke-width="0.55"/>
<circle cx="586.9" cy="497.4" r="0.35" fill="#ff00ff" fill-opacity="0.45"/>
<circle cx="617.23" cy="494.9" r="3.07" fill="none" stroke="#ff0000" stroke-width="0.55"/>
<circle cx="617.23" cy="494.9" r="0.35" fill="#ff0000" fill-opacity="0.4"/>
<text transform="translate(268.75 45.66) scale(1 1.08)" font-family="'Liberation Sans', sans-serif" font-size="10.4">(a)</text>
<text transform="translate(229.47 59.94) scale(1 1.0)" font-family="'Liberation Serif', serif" font-style="italic" font-size="10.4">r</text>
<text transform="translate(233.52 63.06) scale(1 1.08)" font-family="'Liberation Sans', sans-serif" font-size="8.3">typ</text>
<text transform="translate(244.59 60.49) scale(1 0.88)" font-family="'Liberation Sans', sans-serif" font-size="10.4">=</text>
<text transform="translate(250.66 59.94) scale(1 1.08)" font-family="'Liberation Sans', sans-serif" font-size="10.4">1.0 pc</text>
<text transform="translate(267.55 220.9) scale(1 1.08)" font-family="'Liberation Sans', sans-serif" font-size="10.4">(b)</text>
<text transform="translate(227.38 235.57) scale(1 1.0)" font-family="'Liberation Serif', serif" font-style="italic" font-size="10.4">r</text>
<text transform="translate(231.43 238.69) scale(1 1.08)" font-family="'Liberation Sans', sans-serif" font-size="8.3">typ</text>
<text transform="translate(242.5 236.12) scale(1 0.88)" font-family="'Liberation Sans', sans-serif" font-size="10.4">=</text>
<text transform="translate(248.57 235.57) scale(1 1.08)" font-family="'Liberation Sans', sans-serif" font-size="10.4">0.1 pc</text>
<text transform="translate(267.5 392.71) scale(1 1.08)" font-family="'Liberation Sans', sans-serif" font-size="10.4">(c)</text>
<text transform="translate(227.33 406.53) scale(1 1.0)" font-family="'Liberation Serif', serif" font-style="italic" font-size="10.4">r</text>
<text transform="translate(231.38 409.65) scale(1 1.08)" font-family="'Liberation Sans', sans-serif" font-size="8.3">typ</text>
<text transform="translate(242.45 407.08) scale(1 0.88)" font-family="'Liberation Sans', sans-serif" font-size="10.4">=</text>
<text transform="translate(248.52 406.53) scale(1 1.08)" font-family="'Liberation Sans', sans-serif" font-size="10.4">0.01 pc</text>
<text transform="translate(595.95 45.66) scale(1 1.08)" font-family="'Liberation Sans', sans-serif" font-size="10.4">(d)</text>
<text transform="translate(556.67 59.94) scale(1 1.0)" font-family="'Liberation Serif', serif" font-style="italic" font-size="10.4">r</text>
<text transform="translate(560.72 63.06) scale(1 1.08)" font-family="'Liberation Sans', sans-serif" font-size="8.3">typ</text>
<text transform="translate(571.79 60.49) scale(1 0.88)" font-family="'Liberation Sans', sans-serif" font-size="10.4">=</text>
<text transform="translate(577.86 59.94) scale(1 1.08)" font-family="'Liberation Sans', sans-serif" font-size="10.4">10.0 pc</text>
<text transform="translate(594.75 220.9) scale(1 1.08)" font-family="'Liberation Sans', sans-serif" font-size="10.4">(e)</text>
<text transform="translate(554.58 235.57) scale(1 1.0)" font-family="'Liberation Serif', serif" font-style="italic" font-size="10.4">r</text>
<text transform="translate(558.63 238.69) scale(1 1.08)" font-family="'Liberation Sans', sans-serif" font-size="8.3">typ</text>
<text transform="translate(569.7 236.12) scale(1 0.88)" font-family="'Liberation Sans', sans-serif" font-size="10.4">=</text>
<text transform="translate(575.77 235.57) scale(1 1.08)" font-family="'Liberation Sans', sans-serif" font-size="10.4">1.0 pc</text>
<text transform="translate(594.7 392.71) scale(1 1.08)" font-family="'Liberation Sans', sans-serif" font-size="10.4">(f)</text>
<text transform="translate(554.53 406.53) scale(1 1.0)" font-family="'Liberation Serif', serif" font-style="italic" font-size="10.4">r</text>
<text transform="translate(558.58 409.65) scale(1 1.08)" font-family="'Liberation Sans', sans-serif" font-size="8.3">typ</text>
<text transform="translate(569.65 407.08) scale(1 0.88)" font-family="'Liberation Sans', sans-serif" font-size="10.4">=</text>
<text transform="translate(575.72 406.53) scale(1 1.08)" font-family="'Liberation Sans', sans-serif" font-size="10.4">0.1 pc</text>
<text transform="translate(136.8 15.6) scale(1 1.12)" font-family="'Liberation Serif', serif" font-style="italic" font-size="10.4">M</text>
<text transform="translate(145.46 18.72) scale(1 1.12)" font-family="'Liberation Sans', sans-serif" font-size="8.3">BH</text>
<text transform="translate(156.99 16.15) scale(1 0.88)" font-family="'Liberation Sans', sans-serif" font-size="10.4">=</text>
<text transform="translate(163.07 15.6) scale(1 1.12)" font-family="'Liberation Sans', sans-serif" font-size="10.4">30 </text>
<text transform="translate(177.52 15.6) scale(1 1.12)" font-family="'Liberation Serif', serif" font-style="italic" font-size="10.4">M</text>
<text transform="translate(186.19 18.72) scale(1 1.12)" font-family="'Liberation Sans', sans-serif" font-size="8.3">sun</text>
<text transform="translate(464 15.6) scale(1 1.12)" font-family="'Liberation Serif', serif" font-style="italic" font-size="10.4">M</text>
<text transform="translate(472.66 18.72) scale(1 1.12)" font-family="'Liberation Sans', sans-serif" font-size="8.3">BH</text>
<text transform="translate(484.19 16.15) scale(1 0.88)" font-family="'Liberation Sans', sans-serif" font-size="10.4">=</text>
<text transform="translate(490.27 15.6) scale(1 1.12)" font-family="'Liberation Sans', sans-serif" font-size="10.4">10</text>
<text transform="translate(501.83 10.4) scale(1 1.12)" font-family="'Liberation Sans', sans-serif" font-size="8.3">4</text>
<text transform="translate(506.45 15.6) scale(1 1.12)" font-family="'Liberation Sans', sans-serif" font-size="10.4"> </text>
<text transform="translate(509.34 15.6) scale(1 1.12)" font-family="'Liberation Serif', serif" font-style="italic" font-size="10.4">M</text>
<text transform="translate(518 18.72) scale(1 1.12)" font-family="'Liberation Sans', sans-serif" font-size="8.3">sun</text>
<text transform="translate(149.2 553.7) scale(1 1.0)" font-family="'Liberation Serif', serif" font-style="italic" font-size="10.4">n</text>
<text transform="translate(154.4 556.82) scale(1 1.08)" font-family="'Liberation Sans', sans-serif" font-size="8.3">gas</text>
<text transform="translate(167.78 553.7) scale(1 1.08)" font-family="'Liberation Sans', sans-serif" font-size="10.4"> [cm</text>
<text transform="translate(187.42 548.5) scale(1 1.08)" font-family="'Liberation Sans', sans-serif" font-size="8.3">-3</text>
<text transform="translate(194.8 553.7) scale(1 1.08)" font-family="'Liberation Sans', sans-serif" font-size="10.4">]</text>
<text transform="translate(476.4 553.7) scale(1 1.0)" font-family="'Liberation Serif', serif" font-style="italic" font-size="10.4">n</text>
<text transform="translate(481.6 556.82) scale(1 1.08)" font-family="'Liberation Sans', sans-serif" font-size="8.3">gas</text>
<text transform="translate(494.98 553.7) scale(1 1.08)" font-family="'Liberation Sans', sans-serif" font-size="10.4"> [cm</text>
<text transform="translate(514.62 548.5) scale(1 1.08)" font-family="'Liberation Sans', sans-serif" font-size="8.3">-3</text>
<text transform="translate(522 553.7) scale(1 1.08)" font-family="'Liberation Sans', sans-serif" font-size="10.4">]</text>
<text transform="translate(66.7 38.9) scale(1 1.0)" font-family="'Liberation Serif', serif" font-style="italic" font-size="9.98">t</text>
<text transform="translate(69.59 41.34) scale(1 1.08)" font-family="'Liberation Sans', sans-serif" font-size="8.3">N</text>
<text transform="translate(75.58 41.78) scale(1 0.88)" font-family="'Liberation Sans', sans-serif" font-size="8.3">=</text>
<text transform="translate(80.43 41.34) scale(1 1.08)" font-family="'Liberation Sans', sans-serif" font-size="8.3">10</text>
<text transform="translate(89.66 38.9) scale(1 1.08)" font-family="'Liberation Sans', sans-serif" font-size="10.4">(type A)</text>
<circle cx="146.4" cy="35.5" r="3.07" fill="none" stroke="#ff0000" stroke-width="0.55"/>
<circle cx="146.4" cy="35.5" r="0.35" fill="#ff0000" fill-opacity="0.4"/>
<text transform="translate(66.13 48.9) scale(1 1.0)" font-family="'Liberation Serif', serif" font-style="italic" font-size="9.98">t</text>
<text transform="translate(69.02 51.34) scale(1 1.08)" font-family="'Liberation Sans', sans-serif" font-size="8.3">N</text>
<text transform="translate(75.01 51.78) scale(1 0.88)" font-family="'Liberation Sans', sans-serif" font-size="8.3">=</text>
<text transform="translate(79.86 51.34) scale(1 1.08)" font-family="'Liberation Sans', sans-serif" font-size="8.3">10</text>
<text transform="translate(89.09 48.9) scale(1 1.08)" font-family="'Liberation Sans', sans-serif" font-size="10.4">(type B)</text>
<rect x="143.33" y="42.68" width="6.14" height="6.14" fill="none" stroke="#ff00ff" stroke-width="0.55"/>
<circle cx="146.4" cy="45.75" r="0.35" fill="#ff00ff" fill-opacity="0.45"/>
<text transform="translate(65.55 58.9) scale(1 1.0)" font-family="'Liberation Serif', serif" font-style="italic" font-size="9.98">t</text>
<text transform="translate(68.44 61.34) scale(1 1.08)" font-family="'Liberation Sans', sans-serif" font-size="8.3">N</text>
<text transform="translate(74.44 61.78) scale(1 0.88)" font-family="'Liberation Sans', sans-serif" font-size="8.3">=</text>
<text transform="translate(79.28 61.34) scale(1 1.08)" font-family="'Liberation Sans', sans-serif" font-size="8.3">10</text>
<text transform="translate(88.52 58.9) scale(1 1.08)" font-family="'Liberation Sans', sans-serif" font-size="10.4">(type C)</text>
<path d="M146.4 52.36L143.33 57.73L149.47 57.73Z" fill="none" stroke="#0000ff" stroke-width="0.55"/>
<circle cx="146.4" cy="56.2" r="0.35" fill="#0000ff" fill-opacity="0.3"/>
<text transform="translate(111.55 68.9) scale(1 1.0)" font-family="'Liberation Serif', serif" font-style="italic" font-size="9.98">t</text>
<text transform="translate(114.44 72.02) scale(1 1.08)" font-family="'Liberation Sans', sans-serif" font-size="8.3">DF</text>
<path d="M132 66.4H161" stroke="#00ff00" stroke-width="0.65" fill="none"/>
</svg></div>
</body></html>
